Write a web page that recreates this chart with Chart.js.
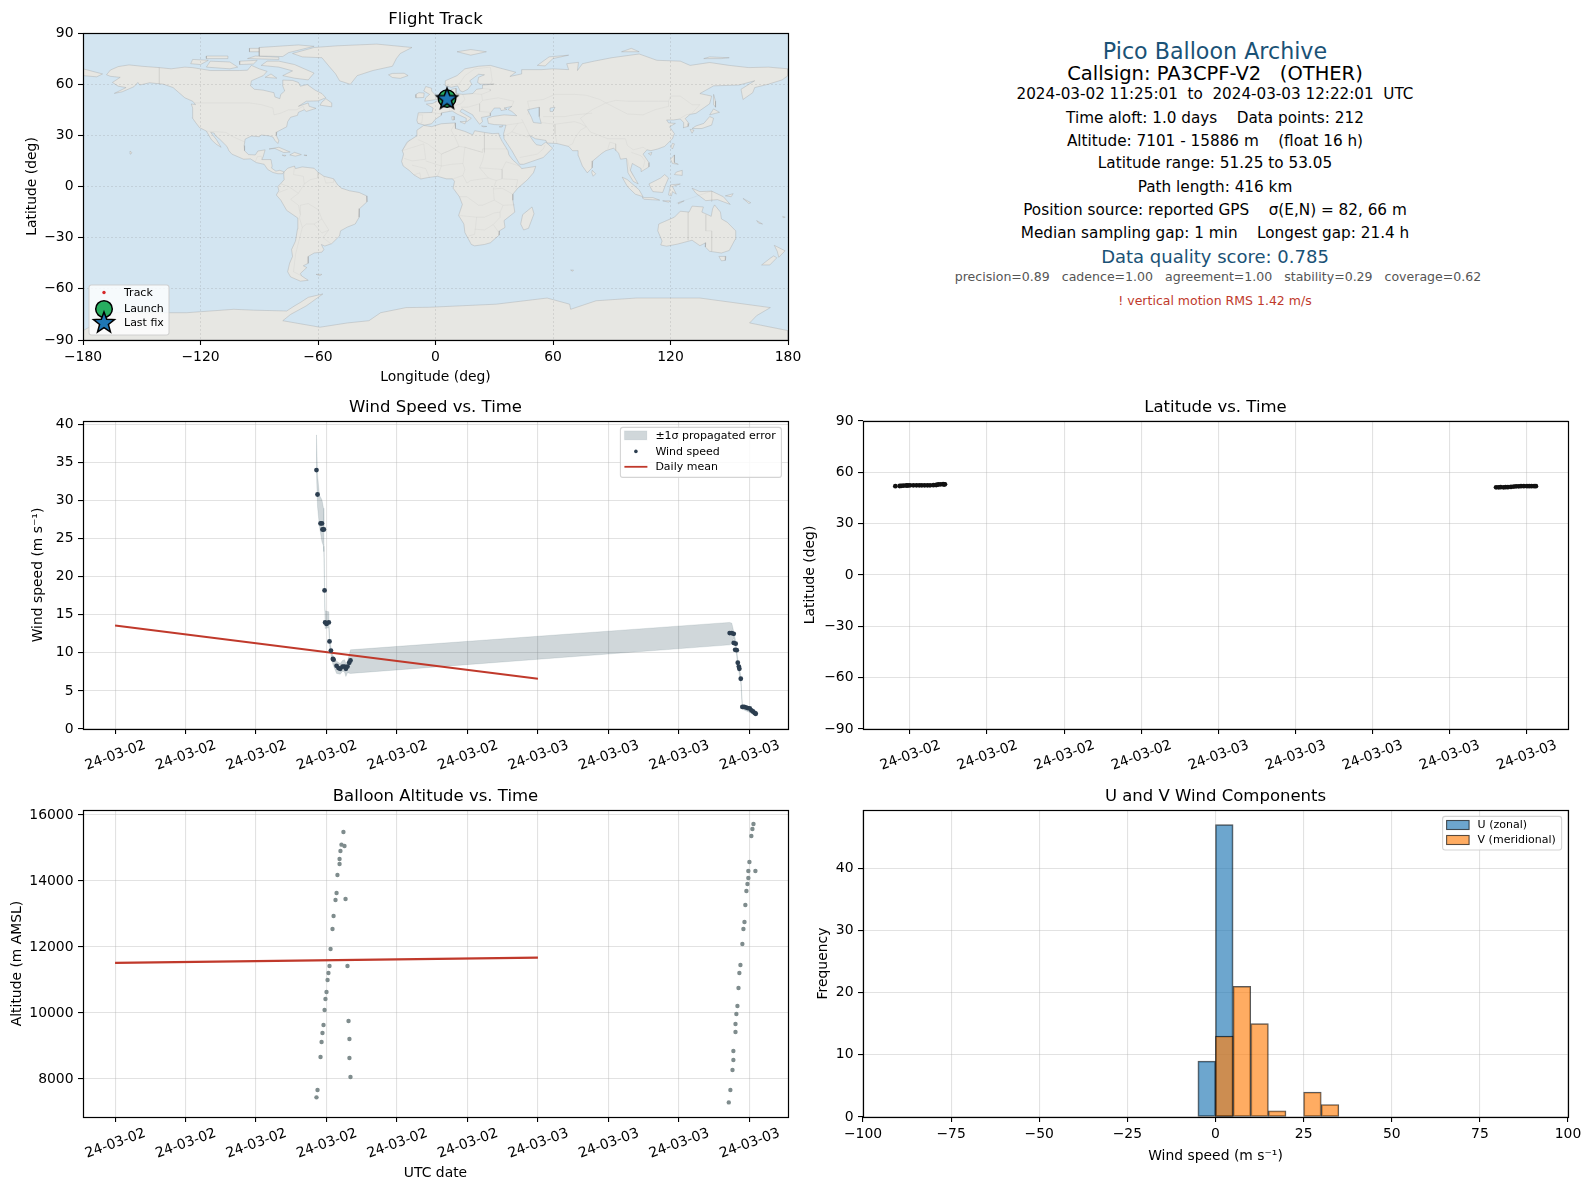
<!DOCTYPE html>
<html>
<head>
<meta charset="utf-8">
<title>Pico Balloon Archive</title>
<script src="https://cdn.jsdelivr.net/npm/chart.js@4/dist/chart.umd.min.js"></script>
<style>
    html, body { margin: 0; padding: 0; background: #fff; }
    body { position: relative; width: 1589px; height: 1190px; overflow: hidden; font-family: "DejaVu Sans", sans-serif; }
    canvas { position: absolute; }
    .info { position: absolute; left: 815px; width: 800px; text-align: center; white-space: pre; transform: translateY(-50%); line-height: 1.2; }
</style>
</head>
<body>
<div id="infoBlock"></div>
<script>
// time axis is hours since 2024-03-02 00:00 UTC
const timeTicksWide = [0, 4, 8, 12, 16, 20, 24, 28, 32, 36]
const timeTicksLat = [12, 15, 18, 21, 24, 27, 30, 33, 36]
const dayBoundary = 24
const dayLabels = ['24-03-02', '24-03-03']

const windHours = [11.43, 11.49, 11.66, 11.74, 11.77, 11.85, 11.89, 11.92, 12.0, 12.13, 12.17, 12.25, 12.36, 12.40, 12.57, 12.68, 12.78, 12.91, 13.02, 13.10, 13.19, 13.29, 13.36,
    34.88, 35.0, 35.11, 35.11, 35.22, 35.19, 35.28, 35.34, 35.40, 35.43, 35.51, 35.6, 35.7, 35.79, 35.9, 36.02, 36.11, 36.2, 36.3, 36.36]
const windSpeed = [34.0, 30.8, 27.0, 27.0, 26.2, 26.2, 18.2, 14.0, 13.8, 14.0, 11.5, 10.3, 9.2, 9.1, 8.3, 8.0, 7.9, 8.2, 8.2, 7.9, 8.2, 8.7, 9.0,
    12.6, 12.6, 12.5, 11.3, 11.2, 10.4, 10.35, 8.7, 8.2, 7.9, 6.6, 2.9, 2.9, 2.85, 2.75, 2.7, 2.45, 2.3, 2.1, 2.0]

const bandHours = [11.40, 11.43, 11.49, 11.60, 11.74, 11.83, 11.85, 11.89, 11.92, 12.13, 12.17, 12.25, 12.36, 12.57, 12.78, 12.91, 13.02, 13.10, 13.19, 13.36, 34.88, 35.0, 35.11, 35.22, 35.34, 35.51, 35.6, 36.36]
const bandUpper = [38.6, 38.6, 33.4, 30.7, 30.1, 29.0, 26.1, 18.7, 15.5, 15.4, 12.0, 10.8, 9.7, 8.9, 8.6, 9.0, 9.1, 8.6, 8.9, 10.4, 14.0, 13.9, 12.8, 11.6, 9.2, 7.0, 3.2, 2.2]
const bandLower = [34.0, 33.6, 29.2, 26.6, 24.6, 24.0, 23.3, 17.7, 13.2, 13.3, 11.0, 9.8, 8.5, 7.3, 7.2, 7.6, 7.5, 6.9, 7.4, 7.3, 11.05, 11.2, 12.0, 10.8, 8.2, 6.2, 2.6, 1.8]

const meanHours = [0, 24]
const meanWind = [13.6, 6.6]
const meanAltitude = [11520, 11680]

const altHours = [12.96, 12.85, 13.02, 12.79, 12.74, 12.74, 12.62, 12.57, 12.51, 13.08, 12.40, 12.34, 12.23, 12.17, 13.19, 12.11, 12.06, 12.0, 11.94, 11.89, 11.83, 11.77, 11.72, 11.66, 13.25, 13.30, 13.30, 13.36, 11.49, 11.43,
    36.23, 36.17, 36.11, 36.0, 35.94, 36.34, 35.94, 35.89, 35.83, 35.77, 35.72, 35.66, 35.6, 35.49, 35.43, 35.38, 35.32, 35.26, 35.21, 35.21, 35.09, 35.09, 35.04, 34.92, 34.83]
const altitude = [15484, 15100, 15060, 14908, 14666, 14515, 14181, 13636, 13424, 13454, 12939, 12545, 11939, 11424, 11424, 11212, 11000, 10636, 10424, 10091, 9636, 9394, 9121, 8667, 9757, 9212, 8636, 8061, 7667, 7445,
    15727, 15575, 15363, 14575, 14302, 14302, 14090, 13909, 13697, 13272, 12757, 12545, 12090, 11454, 11212, 10757, 10212, 9970, 9667, 9424, 8848, 8575, 8272, 7667, 7293]

const latHours = [11.43, 11.60, 11.66, 11.74, 11.85, 11.92, 12.0, 12.13, 12.25, 12.36, 12.46, 12.57, 12.68, 12.78, 12.91, 13.02, 13.10, 13.19, 13.29, 13.33, 13.36,
    34.82, 34.92, 35.0, 35.11, 35.19, 35.28, 35.40, 35.51, 35.6, 35.7, 35.79, 35.9, 36.02, 36.11, 36.2, 36.3, 36.37]
const latValues = [51.9, 52.0, 52.1, 52.2, 52.3, 52.3, 52.4, 52.4, 52.4, 52.4, 52.4, 52.4, 52.4, 52.4, 52.5, 52.6, 52.9, 53.0, 53.05, 53.0, 53.0,
    51.25, 51.25, 51.3, 51.25, 51.3, 51.3, 51.5, 51.7, 51.8, 51.8, 51.9, 51.9, 51.9, 51.9, 51.9, 51.9, 51.9]

const histEdgesU = [-2.5, 2.5]
const histCountsU = [9, 47]
const histCentersV = [2.5, 7.5, 12.5, 17.5, 27.5, 32.5]
const histCountsV = [13, 21, 15, 1, 4, 2]

const trackLon = [5.2, 5.6, 5.9, 6.2, 6.4]
const trackLat = [51.25, 51.4, 51.6, 51.9, 52.1]
const launchLon = [5.9]
const launchLat = [51.5]
const lastLon = [5.9]
const lastLat = [51.5]

// coastlines, [lon, lat]
const northAmerica = [[-168,65.5],[-166,68.3],[-162,70.3],[-156.5,71.3],[-150,70.5],[-141,69.7],[-135,69],[-128,70],[-124,69.7],[-115,68],[-108,68],[-100,68],[-96,68.2],[-94,71],[-90,69],[-86,67.5],[-88,65],[-94,62],[-94.5,59],[-92.5,57],[-88,56.5],[-82.5,55],[-82,52.5],[-79.5,51.5],[-79,54],[-77,56],[-78,59],[-78,62.4],[-73,62.2],[-70,61],[-69,58.8],[-65.5,59.8],[-61.5,56.5],[-58,54.5],[-56,52],[-60,50.2],[-66,50],[-70,47],[-65,49],[-64.5,47],[-61,45.8],[-66,44],[-67,45],[-70,43.5],[-70.5,41.7],[-74,40.6],[-75.5,38],[-76,35],[-78,33.8],[-81,32],[-81.3,30],[-80,26.8],[-80.5,25.2],[-82,27],[-83,29],[-85,29.7],[-89,30.2],[-90,29.2],[-94,29.6],[-97.2,27.8],[-97.7,24],[-97.5,21],[-95.5,18.7],[-92,18.5],[-90.7,20.8],[-87,21.5],[-88,17.5],[-88.7,15.8],[-84,15.8],[-83.4,12],[-83.7,10.8],[-81.5,9],[-79.5,9.5],[-77.4,8.6],[-78,7.5],[-80.5,7.5],[-83,8.2],[-85.7,10],[-87.5,13],[-91.5,14],[-94.5,16.2],[-98,16],[-104,19],[-105.5,21],[-106.5,23.5],[-110,27.5],[-112.5,30],[-113,31.3],[-114.8,31.7],[-112,27.7],[-110,24],[-109.5,23],[-112,24.8],[-114.5,27.5],[-117,32.5],[-120.5,34.5],[-122.5,37.5],[-124.2,40.3],[-124,46],[-124.7,48.4],[-122.5,48],[-124,50],[-128,52],[-130.5,54.5],[-134,58],[-139,60],[-146,60.8],[-151,59.5],[-152,61],[-154,58.5],[-160,55.5],[-164,54.6],[-158,58],[-162,58.8],[-165,61],[-161,64],[-166,64.6]]
const southAmerica = [[-77.3,8.6],[-75.5,10.7],[-72,12],[-71.5,10.5],[-68,11.5],[-62,10.7],[-60,8.4],[-57,6],[-52,4.5],[-50,1],[-48,-1],[-44,-2.5],[-39,-3.5],[-35.2,-5.5],[-35,-9],[-38.8,-13],[-39,-18],[-41,-22],[-45,-23.8],[-48.5,-26],[-49,-29],[-53,-33.5],[-56.5,-34.9],[-58.3,-34],[-57,-37],[-58,-38.5],[-62,-39],[-65,-41],[-65,-45],[-67.5,-46.5],[-65.7,-47.5],[-69,-51],[-68.4,-52.4],[-65,-55],[-69,-55.5],[-74,-53],[-75.5,-50],[-74.5,-45],[-73,-41],[-73.5,-37],[-71.5,-32],[-70.5,-25],[-70.3,-18.5],[-76,-14],[-79,-8],[-81.3,-5],[-80,-2.5],[-80.5,0],[-78.8,2],[-77.3,4],[-77.5,7]]
const africa = [[-6,35.8],[-2,35.1],[3,36.8],[10,37.3],[10.2,34],[15,32.3],[19,30.3],[20,32.7],[25,31.7],[29,31],[32.3,31.2],[32.5,29.9],[34,26.5],[37,21],[37.5,18.5],[39.5,15.5],[43,12],[44,10.5],[51.2,11.8],[50,8],[47,4],[42,-1],[39.5,-4.5],[39.5,-8],[40.5,-15],[35,-20],[35.5,-24],[32.7,-26],[32.5,-28.5],[28,-33],[25,-34],[20,-34.8],[18.3,-34],[15,-27],[14.5,-22],[11.8,-17],[13.7,-10.5],[12.2,-6],[9,-1],[9.7,3],[8.7,4.5],[5.5,4.5],[1,6],[-4,5.2],[-7.5,4.4],[-11,6.8],[-13.5,9.5],[-16.5,12],[-17.3,14.7],[-16.3,19],[-17,21],[-14.5,26],[-9.8,29.5],[-9.5,33]]
const eurasia = [[-9,37],[-9.5,38.8],[-8.8,43.2],[-1.8,43.4],[-1.2,46],[-4.7,48.3],[-1.5,48.7],[1.5,50.5],[4,52],[7,53.5],[8.5,54.8],[8.2,57],[10.5,57.5],[10.5,54.5],[14,54],[19,54.5],[21,57],[24,57.5],[24,59.5],[30,60],[23,60],[21.5,61],[22,64],[25,65.5],[22,65.8],[17.5,62],[18.5,60],[16.5,57],[14,55.5],[12.7,56],[11.3,59],[8,58.2],[5.3,59],[5,62],[11,65],[15,69],[22,70.5],[28,71],[33,69.4],[41,67],[38,64.5],[44,66],[44,68.5],[54,68.5],[60,69],[68,68.5],[67,72],[73,72.8],[72.5,68],[75,72],[81,73.5],[90,75.5],[104,77.7],[113,74],[125,73.5],[130,71],[140,72.7],[150,71],[160,69.7],[170,70],[180,69],[180,65],[177,62.5],[170,60],[163,58],[162,55],[157,51],[156,57],[163,62],[155,59.5],[142,59],[135,54.5],[141,53],[140,48.5],[133,42.9],[130,42.3],[127.5,39.8],[129.4,37],[129,35.2],[126.5,34.5],[126.7,37.5],[125,39.6],[121.5,39],[118,39],[119,37.3],[122.5,37],[119.5,35],[122,31],[121,28],[117,23.5],[113.5,22],[110,21],[108,21.5],[106,19],[109,14],[109,11.5],[105,8.7],[105,10.5],[100.5,13.5],[99.5,9.5],[103.5,1.5],[101,3],[98.3,8],[97.5,16.5],[94.5,16],[93.5,19.5],[91,22.5],[87,21],[85,19.5],[80.3,15],[80,11],[77.5,8],[75,12],[73,18],[72.8,21],[70,21],[68,23.5],[62,25.2],[57,25.5],[56.4,27],[51,28],[48,30],[50,26.5],[51.5,24.5],[54,24],[56.3,26],[59.8,22.5],[55,17],[45,13],[43,13],[39,21],[35,28],[34.8,31],[36,36],[30,36.3],[27,37],[26.5,40],[29,41],[35,42],[41.5,41.5],[39,44],[37,45.2],[39,47],[35,46],[36.5,45.2],[33.5,44.5],[33,46],[30,46],[28,43],[28,41.5],[23.5,40.5],[24,38],[22.5,36.5],[19.5,41],[19,42],[13.5,45.5],[12.5,44],[18.3,40],[16,38],[15.7,40],[11,42.5],[8.5,44.3],[3.2,43.2],[3,41.8],[0,39.5],[-2,36.8],[-5.5,36]]
const antarctica = [[-180,-84.5],[-163,-74],[-127,-74],[-103,-72],[-93,-72.5],[-76,-73],[-72,-70],[-69,-68],[-65,-65],[-57.5,-63],[-66,-70],[-74,-75],[-78,-78.7],[-59,-82.5],[-45,-80],[-34,-78.7],[-28,-74],[-15,-71],[-3,-70.8],[31,-69],[57,-65.4],[68.5,-69],[69,-72],[82,-67],[102.5,-65.4],[135,-65.4],[171,-71],[164,-75.7],[160.4,-80],[180,-84.5],[180,-90],[-180,-90]]
const australia = [[114,-22],[113.5,-26],[115.7,-32],[115,-34.3],[118,-35],[123.5,-33.8],[131,-31.5],[135,-34.7],[138,-33],[137.8,-35.5],[140,-38],[146,-39],[150,-37.5],[153,-31],[153.3,-26],[149,-21],[146,-19],[145.5,-15],[142.5,-10.8],[141.5,-13],[140.8,-17.5],[136,-15],[136.8,-12],[131,-11.5],[129.5,-15],[125,-14.5],[122,-18],[117,-20.5]]
const greenland = [[-73,78],[-68,76],[-58,75.5],[-54,70],[-51,66],[-49,62],[-43.5,59.9],[-40,65],[-32,68],[-22,70.5],[-20,75],[-18,78],[-12,81.5],[-30,83.5],[-50,82.5],[-62,81.5]]
const chukotkaWest = [[-180,69],[-175,67.5],[-170,66],[-173,64.3],[-180,65]]
const arcticIslands = [
    [[-80,73.5],[-72,71.5],[-67,69],[-62,66.5],[-65,62.5],[-72,63.5],[-78,65],[-73,67.8],[-80,70],[-89,71],[-86,73.5]],
    [[-117,70],[-105,69],[-101,70],[-105,73],[-115,73.5]],
    [[-125,72],[-120,71.5],[-116,74],[-124,74.5]],
    [[-90,76.5],[-78,76.2],[-75,78.5],[-62,82.2],[-70,83],[-90,81.5]],
    [[-96,75],[-80,74.5],[-80,75.8],[-92,76.5]],
    [[-117,75],[-106,75],[-106,76.5],[-117,76.5]],
    [[-100,71.5],[-93,71.8],[-91,74],[-100,73.5]],
    [[-95,79],[-87,79],[-88,81],[-95,81]],
    [[-87,64],[-81,63.5],[-84,66]],
    [[11,79],[18,77],[26,79],[18,80.3]],
    [[52,71],[56,70.7],[60,75],[68,77],[58,76]],
    [[95,79],[104,79],[100,81]],
    [[137,75],[146,75],[150,75.5],[140,76]],
    [[-24,65.5],[-22,63.9],[-18,63.4],[-14,65],[-16,66.4],[-22,66.3]]
]
const temperateIslands = [
    [[-59,47.7],[-53,46.7],[-53,49],[-56,51.5],[-58,49.5]],
    [[-85,22],[-80,23],[-74.2,20.2],[-77.5,19.9],[-82,22.3]],
    [[-74.4,18.5],[-72,20],[-68.5,18.7],[-71.5,17.8]],
    [[-78.3,18.4],[-76.3,18.2],[-77,17.8]],
    [[-67.2,18.4],[-65.7,18.4],[-66,18]],
    [[-156,20.8],[-155,19.8],[-155.6,19]],
    [[-5.5,50],[1.3,51.2],[0,53.5],[-2,56],[-2,57.6],[-5,58.6],[-6,56],[-3,54],[-5,52]],
    [[-10,52],[-6,52.2],[-5.8,54.8],[-8.5,55],[-10,54]],
    [[12.5,38],[15.5,38.2],[15,36.7]],
    [[8.3,41],[9.7,41],[9.5,39],[8.5,39]],
    [[23.5,35.5],[26.2,35.2],[24.5,35]],
    [[32.5,35],[34.5,35.6],[33.5,34.7]],
    [[142,54],[143,50],[143,46.5],[142,48]],
    [[131,34],[136,34],[141,36],[142,40],[140,41],[137,37],[133,35.5]],
    [[140,42],[145,43.5],[142,45.5]],
    [[130,33.5],[132,33],[131,31.2]]
]
const tropicalIslands = [
    [[120.2,23],[121,22],[122,25],[121,25.3]],
    [[108.7,19.3],[110.5,20],[110,18.3]],
    [[120,16],[122,18.5],[122,14],[124,13],[121,13.5]],
    [[122,7],[126,6.5],[126,9.5],[123,8.5]],
    [[109,1.5],[115,5],[117,7],[119,5],[117.5,1],[116,-3.5],[111,-3],[110,-1]],
    [[95.3,5.5],[98,4],[104,-2],[106,-6],[102,-4.5],[98,0]],
    [[105.5,-6.5],[111,-6.5],[114.5,-8],[106.5,-7.5]],
    [[119,-5],[120,1],[125,1.5],[121,0],[123,-4.5],[121,-3],[120.5,-5.5]],
    [[131,-1],[135,-3],[141,-2.7],[147,-6],[150.5,-10.5],[144,-7.7],[138,-8.3],[133,-4]],
    [[80,9.5],[81.8,7.5],[80.5,6],[79.8,8]],
    [[49.3,-12],[50.3,-16],[47.5,-24.5],[45,-25.5],[43.5,-22],[44.5,-16.5]],
    [[148,-5.5],[152,-4.2],[151,-6]],
    [[157,-7],[161,-9.5],[160,-10]],
    [[177.3,-17.5],[178.6,-18],[177.5,-18.3]],
    [[124,-9.5],[127,-8.4],[124,-10.2]],
    [[116,-8.4],[120,-8.4],[119,-9.2]]
]
const southernIslands = [
    [[144.7,-41],[148.3,-41],[148,-43.3],[146,-43.6]],
    [[173,-34.5],[178.5,-37.7],[175.3,-41.5],[174.5,-38]],
    [[172.7,-40.7],[174.3,-41.8],[170.7,-46],[166.5,-46],[171,-42]],
    [[164,-20],[167,-22],[165,-21.5]],
    [[-61,-51.5],[-58,-51.5],[-59,-52.3]],
    [[69,-49],[70.5,-49],[70,-49.7]]
]
const inlandSeas = [
    [[47,45],[53,46.5],[53,41],[54,37],[50,37.5],[49,40.5]],
    [[58.5,46],[61,46.5],[60,44],[58.5,44]]
]
const countryBorders = [
    [[-141,69.7],[-141,60]],
    [[-123,49],[-95,49],[-89,48],[-83,46],[-82.5,42],[-79,43],[-75,45],[-71,45],[-67.5,47],[-67,45]],
    [[-117,32.5],[-107,31.7],[-104,29.5],[-97.2,26]],
    [[-92,14.5],[-91,17.5],[-89,17.8],[-88.5,15.8]],
    [[-72,12],[-72.5,7],[-67.5,6],[-67,1.5],[-70,-4],[-74,-7.5],[-70,-11],[-69,-16.5],[-69.5,-18.3]],
    [[-78.8,1.5],[-75,0],[-70,-4]],
    [[-80,-3.5],[-75.5,-1.5]],
    [[-60,8.4],[-60,5],[-64,4],[-67,1.5]],
    [[-57,6],[-56,2],[-52,2.5],[-52,4.5]],
    [[-69,-16.5],[-69,-11],[-65,-10],[-60,-13.5],[-58,-19],[-54.5,-25.5],[-57.5,-30],[-53.5,-33.5]],
    [[-69.5,-18.3],[-68,-24],[-70,-33],[-71.5,-40],[-72.5,-50],[-68.5,-52.3]],
    [[-62,-22],[-58,-19]],
    [[-62,-22],[-66,-22],[-68,-24]],
    [[-54.5,-25.5],[-58,-27.3],[-62,-22]],
    [[-9,37],[-7,37.2],[-6.5,42],[-8.8,42]],
    [[-1.8,43.4],[3,42.5]],
    [[2.5,51],[6,49.5],[8,49],[7.5,47.5],[7,44]],
    [[7,53.5],[6,51],[6,49.5]],
    [[14,54],[15,51],[13,48.5],[10,47.5],[7.5,47.5]],
    [[19,54.5],[23.5,54],[24,50.5],[22.5,48.5],[22.5,44],[28,43.5]],
    [[13,46.5],[16.5,46.5],[22.5,48.5]],
    [[28,70],[29,62],[28,60]],
    [[24,57.5],[28,57],[28,56],[23.5,54]],
    [[24,50.5],[32,52],[40,50],[39,47]],
    [[5,59],[12,60],[15,65],[20,69],[28,70]],
    [[47,42],[48,45],[47,50],[55,51],[61,54],[71,54],[77,53.5],[84,51],[87,49]],
    [[87,49],[92,50.5],[98,50],[107,50],[114,50],[119,50],[120,53],[125,53],[131,48],[135,48],[131,43]],
    [[87,49],[80,45],[74,40],[79,32],[88,28],[97,28],[98,24],[101,21.5],[106,23],[108,21.5]],
    [[87,49],[98,42.5],[106,42],[112,45],[119,47],[119,50]],
    [[125,40],[128,42],[130,42.5]],
    [[61,36.5],[66,37.3],[71,38],[74,37],[77,35],[74,33],[71,28],[70,25],[68,24]],
    [[61,36.5],[61,31],[62,25.2]],
    [[44,39.5],[46,35],[48,30]],
    [[36,36],[42,37],[44.5,37.5]],
    [[55,41],[61,41],[66,41],[71,42],[80,43]],
    [[54,37.5],[61,36.5]],
    [[35,29.5],[39,32],[42,37]],
    [[39,32],[47,29],[48,30]],
    [[43,17],[52,19],[55,22],[56,24.5]],
    [[88,22],[89,26],[92,25],[92,21]],
    [[98,16],[99,11],[101,6]],
    [[100,20],[105,18],[107,15],[106,11]],
    [[-9,27.5],[-4,25],[3,19],[12,23.5],[15,23],[24,20],[24,22],[36.5,22]],
    [[-13,27.7],[-17,21],[-6,25],[-5,16],[-12,15],[-16,16.5]],
    [[10,37],[8,33],[9.5,30],[12,23.5]],
    [[25,31.5],[25,20],[24,15],[22.5,11],[27,5],[31,3.5],[34,4.5],[42,4],[41,-1.5]],
    [[24,20],[15,23],[14,13.5],[15,10],[14,6.5],[16,2],[18,3.5],[27,5]],
    [[3,12],[3,19],[12,23.5]],
    [[3,12],[1,6]],
    [[-12,12.5],[-5,10.5],[-3,5]],
    [[-11,6.8],[-8,8],[-7.5,4.5]],
    [[14,13.5],[8,13],[3,12],[-5,15]],
    [[14,6.5],[9,4.5]],
    [[34,10],[36,14.5],[43,12]],
    [[34,10],[34,4.5]],
    [[22.5,11],[34,10]],
    [[12.2,-6],[16,-6],[22,-11],[24,-11],[30,-8],[29.5,-1.5],[31,3.5]],
    [[29.5,-1.5],[34,-1],[39.5,-4.5]],
    [[30,-8],[34.5,-11],[40.5,-10.7]],
    [[34.5,-11],[33,-15],[30,-15.5],[25,-18],[21,-18],[12,-17]],
    [[21,-18],[20,-28],[17,-29]],
    [[20,-25],[25,-25.5],[29.5,-22.3],[33,-18],[33,-15]],
    [[32,-26.5],[29.5,-22.3]],
    [[123,-9.8],[141,-2.6],[141,-9]],
    [[129,-15],[129,-31.5]],
    [[138,-16.5],[138,-26],[141,-26],[141,-38]]
]

// axis limits
const timeRangeWide = [-1.82, 38.19]
const timeRangeLat = [10.17, 37.62]
const windTicks = [0, 5, 10, 15, 20, 25, 30, 35, 40]
const altTicks = [8000, 10000, 12000, 14000, 16000]
const latTicks = [-90, -60, -30, 0, 30, 60, 90]
const lonTicks = [-180, -120, -60, 0, 60, 120, 180]
const histXTicks = [-100, -75, -50, -25, 0, 25, 50, 75, 100]
const histYTicks = [0, 10, 20, 30, 40]

const infoLines = [
    {text: 'Pico Balloon Archive', y: 50.7, size: 22.2, color: '#1a5276'},
    {text: 'Callsign: PA3CPF-V2   (OTHER)', y: 74, size: 19.5, color: '#000'},
    {text: '2024-03-02 11:25:01  to  2024-03-03 12:22:01  UTC', y: 93.5, size: 15.2, color: '#000'},
    {text: 'Time aloft: 1.0 days    Data points: 212', y: 117.6, size: 15.25, color: '#000'},
    {text: 'Altitude: 7101 - 15886 m    (float 16 h)', y: 140.6, size: 15.25, color: '#000'},
    {text: 'Latitude range: 51.25 to 53.05', y: 163.4, size: 15.25, color: '#000'},
    {text: 'Path length: 416 km', y: 186.5, size: 15.25, color: '#000'},
    {text: 'Position source: reported GPS    σ(E,N) = 82, 66 m', y: 209.8, size: 15.25, color: '#000'},
    {text: 'Median sampling gap: 1 min    Longest gap: 21.4 h', y: 232.7, size: 15.25, color: '#000'},
    {text: 'Data quality score: 0.785', y: 257.4, size: 18, color: '#1a5276'},
    {text: 'precision=0.89   cadence=1.00   agreement=1.00   stability=0.29   coverage=0.62', y: 277.3, size: 12.55, color: '#555', shift: 3},
    {text: '! vertical motion RMS 1.42 m/s', y: 300, size: 12.5, color: '#c0392b'}
]

const FONT = '"DejaVu Sans", sans-serif'
const GRID = 'rgba(176,176,176,0.36)'
const OCEAN = '#d3e5f1'
const LAND = '#e7e7e3'
const MAP_GRID = 'rgba(120,120,120,0.26)'
const BAND = 'rgba(20,55,70,0.2)'

infoLines.forEach((line) => {
    let div = document.createElement('div')
    div.className = 'info'
    div.textContent = line.text
    div.style.top = line.y + 'px'
    div.style.fontSize = line.size + 'px'
    div.style.color = line.color
    if (line.shift) div.style.marginLeft = line.shift + 'px'
    document.getElementById('infoBlock').appendChild(div)
})

function xy(xs, ys) {
    return xs.map((x, i) => ({x: x, y: ys[i]}))
}

function closed(shape) {
    let pts = shape.map((p) => ({x: p[0], y: p[1]}))
    pts.push(pts[0])
    return pts
}

function minusSign(value) {
    return String(value).replace('-', '\u2212')
}

function dayLabel(value) {
    return value < dayBoundary ? dayLabels[0] : dayLabels[1]
}

function starSprite(size) {
    let c = document.createElement('canvas')
    c.width = size
    c.height = size
    let g = c.getContext('2d')
    drawStar(g, size / 2, size / 2 + 0.5, size / 2 - 2)
    return c
}

function drawStar(g, cx, cy, r) {
    g.beginPath()
    for (let i = 0; i < 10; i++) {
        let rad = i % 2 === 0 ? r : r * 0.42
        let a = -Math.PI / 2 + i * Math.PI / 5
        g.lineTo(cx + rad * Math.cos(a), cy + rad * Math.sin(a))
    }
    g.closePath()
    g.fillStyle = '#1f77b4'
    g.strokeStyle = '#000'
    g.lineWidth = 1.5
    g.fill()
    g.stroke()
}

// title over the plot, frame round it, ocean fill and the in-plot legend box
const panelExtras = {
    id: 'panelExtras',
    afterLayout(chart) {
        chart.titleBlock.left = chart.chartArea.left
        chart.titleBlock.right = chart.chartArea.right
    },
    beforeDatasetsDraw(chart, args, opts) {
        if (!opts.background) return
        let a = chart.chartArea
        chart.ctx.fillStyle = opts.background
        chart.ctx.fillRect(a.left, a.top, a.right - a.left, a.bottom - a.top)
    },
    afterDraw(chart, args, opts) {
        let a = chart.chartArea
        let g = chart.ctx
        g.save()
        g.strokeStyle = '#000'
        g.lineWidth = 1.2
        let fx = Math.round(a.left) + 0.5
        let fy = Math.round(a.top) + 0.5
        g.strokeRect(fx, fy, Math.round(a.right) - Math.round(a.left), Math.round(a.bottom) - Math.round(a.top))
        let box = opts.legend
        if (box) {
            g.beginPath()
            g.roundRect(a.left + box.x, a.top + box.y, box.w, box.h, 2.5)
            g.fillStyle = box.fill
            g.strokeStyle = 'rgba(204,204,204,0.85)'
            g.lineWidth = 1.1
            g.fill()
            g.stroke()
            g.font = '11px ' + FONT
            g.textBaseline = 'middle'
            box.items.forEach((item) => {
                let x = a.left + box.x
                let y = a.top + box.y + item.y
                g.lineWidth = 1.1
                if (item.kind === 'patch') {
                    g.fillStyle = item.fill
                    g.strokeStyle = item.edge
                    g.fillRect(x + 4, y - 4.5, 22.5, 9)
                    g.strokeRect(x + 4, y - 4.5, 22.5, 9)
                } else if (item.kind === 'line') {
                    g.strokeStyle = item.edge
                    g.lineWidth = 1.8
                    g.beginPath()
                    g.moveTo(x + 4, y)
                    g.lineTo(x + 27, y)
                    g.stroke()
                } else if (item.kind === 'dot') {
                    g.fillStyle = item.fill
                    g.beginPath()
                    g.arc(x + item.cx, y, item.r, 0, Math.PI * 2)
                    g.fill()
                    if (item.edge) {
                        g.strokeStyle = item.edge
                        g.lineWidth = 1.5
                        g.stroke()
                    }
                } else if (item.kind === 'star') {
                    drawStar(g, x + item.cx, y, item.r)
                }
                g.fillStyle = '#000'
                g.fillText(item.label, x + item.tx, y + 0.5)
            })
        }
        g.restore()
    }
}
Chart.register(panelExtras)

function axis(cfg) {
    return {
        type: 'linear',
        min: cfg.min,
        max: cfg.max,
        offset: false,
        afterBuildTicks: (scale) => { scale.ticks = cfg.ticks.map((v) => ({value: v})) },
        afterFit: (scale) => {
            if (scale.isHorizontal()) scale.height = 66
            else scale.width = 80
            scale.paddingLeft = 0
            scale.paddingRight = 0
            scale.paddingTop = 0
            scale.paddingBottom = 0
        },
        border: {display: false, dash: cfg.dash || []},
        grid: {
            color: cfg.gridColor || GRID,
            lineWidth: cfg.gridWidth || 1.1,
            tickLength: 5,
            tickColor: '#000',
            tickWidth: 1.1,
            offset: false,
            z: cfg.gridZ || 0
        },
        ticks: {
            autoSkip: false,
            color: '#000',
            padding: cfg.tickPad === undefined ? 4.5 : cfg.tickPad,
            font: {family: FONT, size: 13.9},
            minRotation: cfg.rotation || 0,
            maxRotation: cfg.rotation || 0,
            labelOffset: cfg.labelOffset || 0,
            callback: cfg.label || minusSign
        },
        title: {
            display: !!cfg.title,
            text: cfg.title,
            color: '#000',
            font: {family: FONT, size: 13.9},
            padding: {top: cfg.titlePad || 0, bottom: cfg.titlePad || 0}
        }
    }
}

function panel(plot, title, type, datasets, xAxis, yAxis, extras) {
    let canvas = document.createElement('canvas')
    let w = plot.right - plot.left + 105
    let h = plot.bottom - plot.top + 32 + 66
    canvas.width = w
    canvas.height = h
    canvas.style.left = (plot.left - 80) + 'px'
    canvas.style.top = (plot.top - 32) + 'px'
    canvas.style.width = w + 'px'
    canvas.style.height = h + 'px'
    document.body.appendChild(canvas)
    return new Chart(canvas.getContext('2d'), {
        type: type,
        data: {datasets: datasets},
        options: {
            responsive: false,
            animation: false,
            devicePixelRatio: 1,
            layout: {padding: {left: 0, top: 0, right: 25, bottom: 0}},
            scales: {x: axis(xAxis), y: axis(yAxis)},
            plugins: {
                legend: {display: false},
                tooltip: {enabled: false},
                title: {
                    display: true,
                    text: title,
                    color: '#000',
                    font: {family: FONT, size: 16.5, weight: 'normal', lineHeight: 1.2},
                    padding: {top: 8.9, bottom: 3.3}
                },
                panelExtras: extras || {}
            }
        }
    })
}

// ---- map
let mapSets = []
const landShapes = [antarctica, eurasia, africa, northAmerica, southAmerica, australia, greenland, chukotkaWest]
    .concat(arcticIslands, temperateIslands, tropicalIslands, southernIslands)
landShapes.forEach((shape) => {
    mapSets.push({
        type: 'line', data: closed(shape), fill: 'shape', showLine: true, pointRadius: 0,
        backgroundColor: LAND, borderColor: 'rgba(150,150,150,0.45)', borderWidth: 0.7, order: 6
    })
})
inlandSeas.forEach((shape) => {
    mapSets.push({
        type: 'line', data: closed(shape), fill: 'shape', showLine: true, pointRadius: 0,
        backgroundColor: OCEAN, borderColor: 'rgba(150,150,150,0.45)', borderWidth: 0.7, order: 5
    })
})
countryBorders.forEach((shape) => {
    mapSets.push({
        type: 'line', data: shape.map((p) => ({x: p[0], y: p[1]})), fill: false, showLine: true, pointRadius: 0,
        borderColor: 'rgba(150,150,150,0.14)', borderWidth: 0.7, order: 4
    })
})
mapSets.push({data: xy(trackLon, trackLat), showLine: false, pointRadius: 1.7, pointBackgroundColor: '#d62728', pointBorderWidth: 0, order: 3})
mapSets.push({data: xy(launchLon, launchLat), showLine: false, pointRadius: 8.7, pointBackgroundColor: '#27ae60', pointBorderColor: '#000', pointBorderWidth: 1.5, order: 2})
mapSets.push({data: xy(lastLon, lastLat), showLine: false, pointStyle: starSprite(26), pointRadius: 13, order: 1})

panel({left: 83, right: 788, top: 33, bottom: 340}, 'Flight Track', 'line', mapSets,
    {min: -180, max: 180, ticks: lonTicks, title: 'Longitude (deg)', titlePad: 20.3, gridColor: MAP_GRID, gridWidth: 0.7, dash: [2, 2], gridZ: 1},
    {min: -90, max: 90, ticks: latTicks, title: 'Latitude (deg)', titlePad: 20.7, gridColor: MAP_GRID, gridWidth: 0.7, dash: [2, 2], gridZ: 1},
    {
        background: OCEAN,
        legend: {
            x: 6, y: 252, w: 80, h: 50, fill: 'rgba(255,255,255,0.8)',
            items: [
                {kind: 'dot', cx: 15, r: 1.7, fill: '#d62728', y: 7.5, label: 'Track', tx: 35},
                {kind: 'dot', cx: 15, r: 8.3, fill: '#27ae60', edge: '#000', y: 24, label: 'Launch', tx: 35},
                {kind: 'star', cx: 15, r: 11, y: 38, label: 'Last fix', tx: 35}
            ]
        }
    })

// ---- wind speed
panel({left: 83, right: 788, top: 421, bottom: 729}, 'Wind Speed vs. Time', 'line', [
    {data: xy(bandHours, bandUpper), fill: '+1', backgroundColor: BAND, borderColor: 'rgba(20,55,70,0.1)', borderWidth: 1, pointRadius: 0, order: 3},
    {data: xy(bandHours, bandLower), fill: false, borderColor: 'rgba(20,55,70,0.1)', borderWidth: 1, pointRadius: 0, order: 3},
    {data: xy(windHours, windSpeed), showLine: false, pointRadius: 2.4, pointBackgroundColor: '#2c3e50', pointBorderWidth: 0, order: 1},
    {data: xy(meanHours, meanWind), fill: false, borderColor: '#c0392b', borderWidth: 1.9, pointRadius: 0, order: 2}
],
    {min: timeRangeWide[0], max: timeRangeWide[1], ticks: timeTicksWide, rotation: 20, labelOffset: 30, tickPad: 3, label: dayLabel},
    {min: 0, max: 40.45, ticks: windTicks, title: 'Wind speed (m s\u207B\u00B9)', titlePad: 27.5},
    {
        legend: {
            x: 537.4, y: 6.4, w: 161, h: 50, fill: 'rgba(255,255,255,0.85)',
            items: [
                {kind: 'patch', fill: BAND, edge: 'rgba(20,55,70,0.05)', y: 8, label: '\u00B11\u03C3 propagated error', tx: 35},
                {kind: 'dot', cx: 15.5, r: 1.8, fill: '#2c3e50', y: 24, label: 'Wind speed', tx: 35},
                {kind: 'line', edge: '#c0392b', y: 39.4, label: 'Daily mean', tx: 35}
            ]
        }
    })

// ---- latitude
panel({left: 863, right: 1568, top: 421, bottom: 729}, 'Latitude vs. Time', 'line', [
    {data: xy(latHours, latValues), showLine: false, pointRadius: 2.4, pointBackgroundColor: '#111', pointBorderWidth: 0}
],
    {min: timeRangeLat[0], max: timeRangeLat[1], ticks: timeTicksLat, rotation: 20, labelOffset: 30, tickPad: 3, label: dayLabel},
    {min: -90, max: 90, ticks: latTicks, title: 'Latitude (deg)', titlePad: 19.3})

// ---- altitude
panel({left: 83, right: 788, top: 810, bottom: 1117}, 'Balloon Altitude vs. Time', 'line', [
    {data: xy(altHours, altitude), showLine: false, pointRadius: 2.2, pointBackgroundColor: '#7f8c8d', pointBorderWidth: 0, order: 1},
    {data: xy(meanHours, meanAltitude), fill: false, borderColor: '#c0392b', borderWidth: 2.2, pointRadius: 0, order: 2}
],
    {min: timeRangeWide[0], max: timeRangeWide[1], ticks: timeTicksWide, rotation: 20, labelOffset: 30, tickPad: 3, label: dayLabel, title: 'UTC date', titlePad: 1},
    {min: 6850, max: 16150, ticks: altTicks, title: 'Altitude (m AMSL)', titlePad: 6.5})

// ---- wind components
panel({left: 863, right: 1568, top: 810, bottom: 1117}, 'U and V Wind Components', 'bar', [
    {label: 'U (zonal)', data: xy(histEdgesU, histCountsU), backgroundColor: 'rgba(31,119,180,0.65)', borderColor: 'rgba(0,0,0,0.65)', borderWidth: 1.1, borderSkipped: false, grouped: false, barPercentage: 1, categoryPercentage: 1, order: 2},
    {label: 'V (meridional)', data: xy(histCentersV, histCountsV), backgroundColor: 'rgba(255,127,14,0.65)', borderColor: 'rgba(0,0,0,0.65)', borderWidth: 1.1, borderSkipped: false, grouped: false, barPercentage: 1, categoryPercentage: 1, order: 1}
],
    {min: -100, max: 100, ticks: histXTicks, title: 'Wind speed (m s\u207B\u00B9)', titlePad: 18.5},
    {min: 0, max: 49.35, ticks: histYTicks, title: 'Frequency', titlePad: 32.5},
    {
        legend: {
            x: 579.6, y: 6.4, w: 119, h: 33.6, fill: 'rgba(255,255,255,0.85)',
            items: [
                {kind: 'patch', fill: 'rgba(31,119,180,0.65)', edge: 'rgba(0,0,0,0.65)', y: 8.6, label: 'U (zonal)', tx: 35},
                {kind: 'patch', fill: 'rgba(255,127,14,0.65)', edge: 'rgba(0,0,0,0.65)', y: 23.6, label: 'V (meridional)', tx: 35}
            ]
        }
    })
</script>
</body>
</html>
